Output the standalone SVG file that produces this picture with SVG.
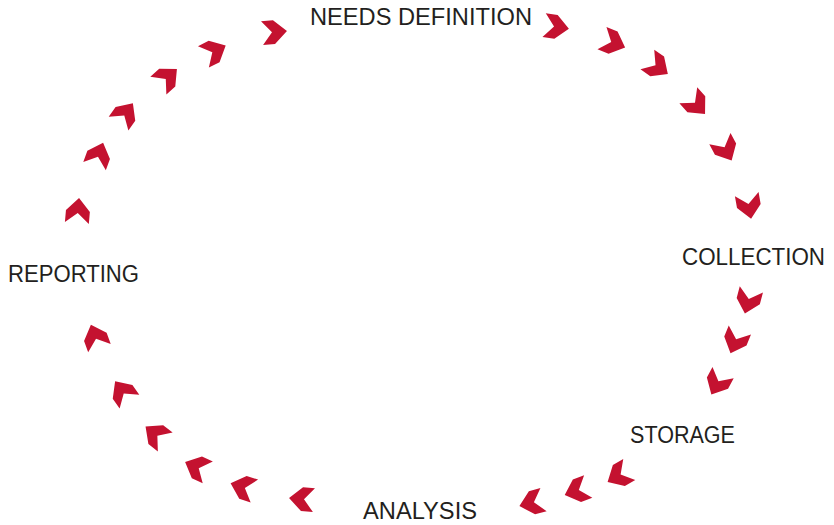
<svg xmlns="http://www.w3.org/2000/svg" width="834" height="525" viewBox="0 0 834 525">
<style>
.lbl{font-family:"Liberation Sans","DejaVu Sans",sans-serif;font-size:23.5px;fill:#231f20}
.ch{fill:#c41230}
</style>
<defs>
<path id="chev" d="M-13,-12 L-1,-12 L12,0 L-1,12 L-13,12 L-3,0 Z"/>
</defs>
<rect width="834" height="525" fill="#fff"/>
<g id="connectors" class="ch">
<use href="#chev" transform="translate(275,32) rotate(-5)"/>
<use href="#chev" transform="translate(557,27) rotate(8)"/>
<use href="#chev" transform="translate(614,43) rotate(22)"/>
<use href="#chev" transform="translate(658,67) rotate(35)"/>
<use href="#chev" transform="translate(697,105) rotate(48)"/>
<use href="#chev" transform="translate(726,150) rotate(62)"/>
<use href="#chev" transform="translate(749,207) rotate(80)"/>
<use href="#chev" transform="translate(748,302) rotate(105)"/>
<use href="#chev" transform="translate(735,342) rotate(112)"/>
<use href="#chev" transform="translate(717,384) rotate(118)"/>
<use href="#chev" transform="translate(618,476) rotate(150)"/>
<use href="#chev" transform="translate(576,491) rotate(160)"/>
<use href="#chev" transform="translate(531,503) rotate(165)"/>
<use href="#chev" transform="translate(301,499) rotate(185)"/>
<use href="#chev" transform="translate(242,487) rotate(198)"/>
<use href="#chev" transform="translate(196,467) rotate(205)"/>
<use href="#chev" transform="translate(155,434) rotate(218)"/>
<use href="#chev" transform="translate(122,391) rotate(235)"/>
<use href="#chev" transform="translate(95,336) rotate(250)"/>
<use href="#chev" transform="translate(78,210) rotate(275)"/>
<use href="#chev" transform="translate(99,154) rotate(290)"/>
<use href="#chev" transform="translate(126,113) rotate(305)"/>
<use href="#chev" transform="translate(168,77) rotate(318)"/>
<use href="#chev" transform="translate(215,51) rotate(333)"/>
</g>
<g id="needs-definition"><text class="lbl" x="310" y="25" textLength="222" lengthAdjust="spacingAndGlyphs">NEEDS DEFINITION</text></g>
<g id="collection"><text class="lbl" x="682" y="265" textLength="143" lengthAdjust="spacingAndGlyphs">COLLECTION</text></g>
<g id="storage"><text class="lbl" x="630" y="443" textLength="105" lengthAdjust="spacingAndGlyphs">STORAGE</text></g>
<g id="analysis"><text class="lbl" x="363" y="519" textLength="114" lengthAdjust="spacingAndGlyphs">ANALYSIS</text></g>
<g id="reporting"><text class="lbl" x="8" y="282" textLength="131" lengthAdjust="spacingAndGlyphs">REPORTING</text></g>
</svg>
